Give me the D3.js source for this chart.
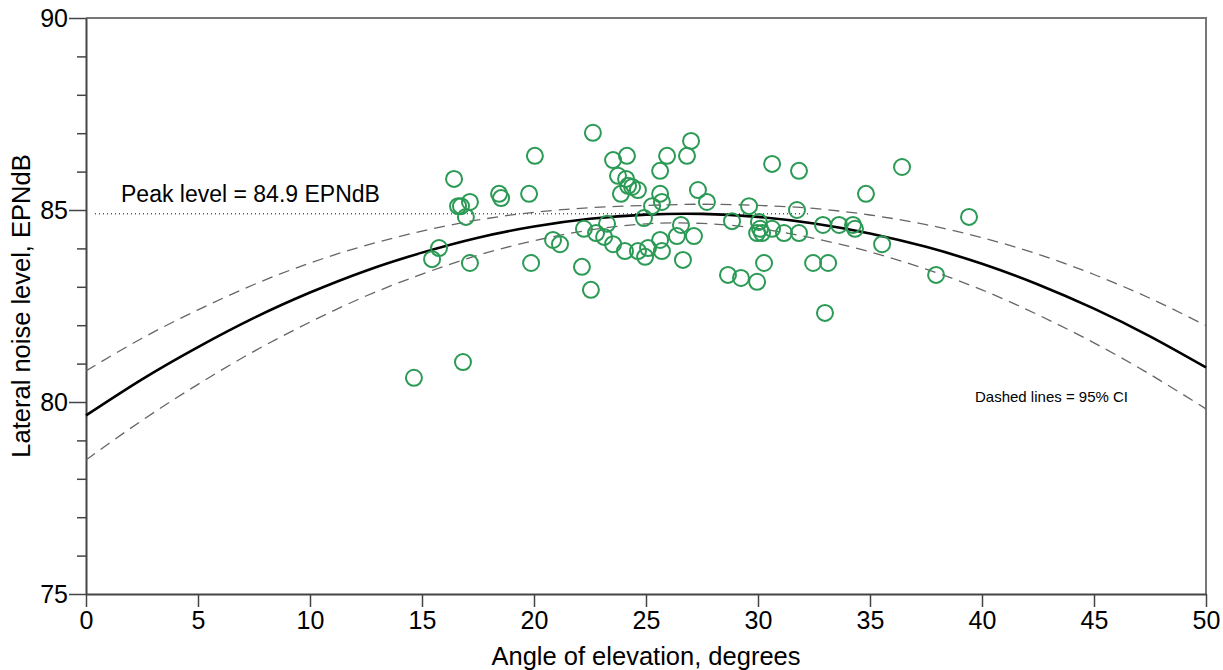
<!DOCTYPE html>
<html>
<head>
<meta charset="utf-8">
<script src="https://cdn.jsdelivr.net/npm/d3@7"></script>
<style>
  body { margin: 0; background: #fff; }
  svg { font-family: "Liberation Sans", Arial, sans-serif; }
</style>
</head>
<body>
<script>
// observed points: angle (deg) and lateral noise level (EPNdB)
const obsAngle = [14.64, 16.83, 15.45, 15.76, 16.43, 16.61, 16.74, 16.96, 17.14, 17.14,
  18.44, 18.53, 20.04, 19.78, 19.87, 20.85, 21.16, 22.14, 22.54, 22.63,
  22.23, 22.77, 23.13, 23.26, 23.53, 23.53, 24.15, 23.75, 23.88, 24.11,
  24.20, 24.38, 24.64, 24.06, 24.64, 24.96, 25.09, 24.91, 25.27, 25.63,
  25.94, 25.63, 25.71, 25.63, 25.71, 26.38, 26.56, 26.65, 26.83, 27.01,
  27.14, 27.32, 27.72, 28.84, 28.66, 29.24, 29.60, 29.96, 29.96, 30.04,
  30.09, 30.18, 30.27, 30.63, 30.63, 31.16, 31.74, 31.83, 31.83, 32.46,
  32.99, 33.13, 32.90, 33.62, 34.24, 34.33, 34.82, 35.54, 36.43, 37.95, 39.42];
const obsLevel = [80.63, 81.04, 83.72, 84.01, 85.81, 85.10, 85.10, 84.82, 85.21, 83.62,
  85.42, 85.31, 86.41, 85.42, 83.62, 84.22, 84.11, 83.52, 82.92, 87.01,
  84.51, 84.40, 84.30, 84.64, 84.11, 86.30, 86.41, 85.89, 85.42, 85.81,
  85.63, 85.60, 85.52, 83.93, 83.93, 83.78, 84.01, 84.79, 85.10, 86.02,
  86.41, 85.42, 85.21, 84.22, 83.93, 84.32, 84.61, 83.70, 86.41, 86.80,
  84.32, 85.52, 85.21, 84.71, 83.31, 83.23, 85.10, 83.13, 84.40, 84.69,
  84.51, 84.40, 83.62, 84.51, 86.20, 84.40, 85.00, 86.02, 84.40, 83.62,
  82.32, 83.62, 84.61, 84.61, 84.61, 84.51, 85.42, 84.11, 86.12, 83.31, 84.82];

// fitted curve and 95% CI
const curveAngle = [0, 2.5, 5, 7.5, 10, 12.5, 15, 17.5, 20, 22.5, 25, 27.5, 30, 32.5, 35, 37.5, 40, 42.5, 45, 47.5, 50];
const fitLevel = [79.65, 80.59, 81.43, 82.19, 82.85, 83.42, 83.89, 84.28, 84.57, 84.77, 84.88, 84.90, 84.82, 84.65, 84.39, 84.04, 83.60, 83.06, 82.43, 81.71, 80.90];
const ciUpper = [80.81, 81.66, 82.40, 83.06, 83.62, 84.08, 84.45, 84.74, 84.94, 85.06, 85.12, 85.15, 85.12, 85.04, 84.87, 84.62, 84.28, 83.85, 83.32, 82.70, 81.99];
const ciLower = [78.49, 79.52, 80.46, 81.32, 82.08, 82.76, 83.33, 83.82, 84.20, 84.48, 84.64, 84.65, 84.52, 84.26, 83.91, 83.46, 82.92, 82.27, 81.54, 80.72, 79.82];

const peakLevel = 84.9;
const peakRange = [0.4, 32.3];
const xTicks = [0, 5, 10, 15, 20, 25, 30, 35, 40, 45, 50];
const yTicks = [75, 80, 85, 90];
const yMinor = [76, 77, 78, 79, 81, 82, 83, 84, 86, 87, 88, 89];

const W = 1223, H = 670;
const m = { left: 86, right: 17, top: 18, bottom: 76 };

const svg = d3.select("body").append("svg").attr("width", W).attr("height", H);

const x = d3.scaleLinear().domain([0, 50]).range([m.left, W - m.right]);
const y = d3.scaleLinear().domain([75, 90]).range([H - m.bottom, m.top]);

// frame top and right
svg.append("path")
  .attr("d", `M${x(0)},${y(90)}H${x(50)}V${y(75)}`)
  .attr("fill", "none").attr("stroke", "#777").attr("stroke-width", 2);

// minor y ticks
svg.append("g")
  .attr("transform", `translate(${x(0)},0)`)
  .call(d3.axisLeft(y).tickValues(yMinor).tickSize(9).tickFormat(""))
  .call(g => g.select(".domain").remove())
  .call(g => g.selectAll("line").attr("stroke", "#444").attr("stroke-width", 1.5));

const yAxis = svg.append("g")
  .attr("transform", `translate(${x(0)},0)`)
  .call(d3.axisLeft(y).tickValues(yTicks).tickSize(17).tickSizeOuter(0).tickPadding(1));

const xAxis = svg.append("g")
  .attr("transform", `translate(0,${y(75)})`)
  .call(d3.axisBottom(x).tickValues(xTicks).tickSize(13).tickSizeOuter(0).tickPadding(4));

[xAxis, yAxis].forEach(a => {
  a.select(".domain").attr("stroke", "#444").attr("stroke-width", 2);
  a.selectAll(".tick line").attr("stroke", "#444").attr("stroke-width", 1.5);
  a.selectAll(".tick text").attr("fill", "#000").style("font-size", "25px");
});

// peak reference line
svg.append("line")
  .attr("x1", x(peakRange[0])).attr("x2", x(peakRange[1]))
  .attr("y1", y(peakLevel)).attr("y2", y(peakLevel))
  .attr("stroke", "#000").attr("stroke-width", 1).attr("stroke-dasharray", "1,3");

const line = vals => d3.line()
  .x((d, i) => x(curveAngle[i]))
  .y(d => y(d))
  .curve(d3.curveNatural)(vals);

[ciUpper, ciLower].forEach(vals => {
  svg.append("path")
    .attr("d", line(vals))
    .attr("fill", "none").attr("stroke", "#666")
    .attr("stroke-width", 1.3).attr("stroke-dasharray", "11,7");
});

svg.append("path")
  .attr("d", line(fitLevel))
  .attr("fill", "none").attr("stroke", "#000").attr("stroke-width", 2.6);

svg.append("g")
  .selectAll("circle")
  .data(obsAngle)
  .join("circle")
  .attr("cx", d => x(d))
  .attr("cy", (d, i) => y(obsLevel[i]))
  .attr("r", 8)
  .attr("fill", "none")
  .attr("stroke", "#2b9a55")
  .attr("stroke-width", 2);

svg.append("text")
  .attr("x", 121).attr("y", 202)
  .style("font-size", "23px")
  .text("Peak level = 84.9 EPNdB");

svg.append("text")
  .attr("x", 975).attr("y", 402)
  .style("font-size", "15px")
  .text("Dashed lines = 95% CI");

svg.append("text")
  .attr("x", (x(0) + x(50)) / 2).attr("y", 665)
  .attr("text-anchor", "middle")
  .style("font-size", "25.5px")
  .text("Angle of elevation, degrees");

svg.append("text")
  .attr("transform", `translate(30,${(y(75) + y(90)) / 2}) rotate(-90)`)
  .attr("text-anchor", "middle")
  .style("font-size", "25.5px")
  .text("Lateral noise level, EPNdB");
</script>
</body>
</html>
